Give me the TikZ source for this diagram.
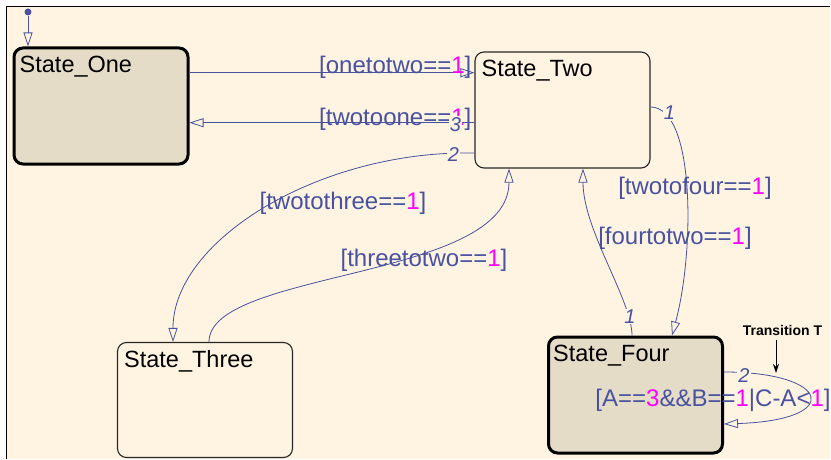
\documentclass[tikz,border=0pt]{standalone}
\usepackage{fontspec}
\setmainfont{Liberation Sans}
\usetikzlibrary{arrows.meta}

\definecolor{canvas}{RGB}{255,244,225}
\definecolor{statefill}{RGB}{229,220,200}
\definecolor{transblue}{RGB}{72,82,160}
\definecolor{guardmag}{RGB}{255,0,255}

\newcommand{\guard}[2]{[#1==\textcolor{guardmag}{#2}]}

\begin{document}
\begin{tikzpicture}[x=1pt,y=1pt]

\tikzstyle{state}=[draw=black!85,line width=1.1pt,rounded corners=9pt,fill=canvas,
  minimum width=175pt,minimum height=116pt,inner sep=0pt]
\tikzstyle{active}=[state,draw=black,fill=statefill,line width=3pt,minimum width=174pt]
\tikzstyle{statename}=[anchor=base west,inner sep=0pt,font=\fontsize{23.5}{26}\selectfont]
\tikzstyle{trans}=[draw=transblue,line width=0.8pt,-{Triangle[open,length=14pt,width=9pt]}]
\tikzstyle{guardtext}=[text=transblue,inner sep=0pt,font=\fontsize{24}{28}\selectfont]
\tikzstyle{ordernum}=[text=transblue,fill=canvas,inner sep=1pt,font=\fontsize{20}{22}\selectfont\itshape]

\useasboundingbox (0,0) rectangle (831,459);
\fill[canvas] (7,0) rectangle (830,452);
\draw[line width=1.5pt] (6.5,0) -- (6.5,452.5) -- (830,452.5);

% states
\node[active] (one) at (101,353) {};
\node[state] (two) at (562.5,349) {};
\node[state,minimum height=115pt] (three) at (205,59) {};
\node[active] (four) at (635.5,64) {};

\node[statename] (onename) at ([xshift=7pt,yshift=-26pt]one.north west) {State\_One};
\node[statename] (twoname) at ([xshift=7pt,yshift=-25.5pt]two.north west) {State\_Two};
\node[statename] (threename) at ([xshift=7pt,yshift=-25.5pt]three.north west) {State\_Three};
\node[statename] (fourname) at ([xshift=6pt,yshift=-26pt]four.north west) {State\_Four};

% default transition
\node[fill=transblue,circle,inner sep=0pt,minimum size=7pt] (init) at (28,447) {};
\draw[trans] (init) -- (init |- one.north);

% one <-> two
\draw[trans] ([yshift=33.3pt]one.east) -- ([yshift=37.3pt]two.west)
  node[guardtext,anchor=east,pos=1,xshift=-2.7pt,yshift=5pt] (g12) {\guard{onetotwo}{1}};
\draw[trans] ([yshift=-12.7pt]two.west) -- ([yshift=-16.7pt]one.east)
  node[guardtext,anchor=east,pos=0,xshift=-2.7pt,yshift=3.7pt] (g21) {\guard{twotoone}{1}}
  node[ordernum,pos=0,xshift=-19pt,yshift=-1.5pt] (o21) {3};

% two <-> three
\draw[trans] ([yshift=-43pt]two.west) .. controls (320,309) and (173,219) .. ([xshift=-32pt]three.north)
  node[ordernum,pos=0,xshift=-21pt,yshift=-2pt] (o23) {2};
\node[guardtext] (g23) at (343,256) {\guard{twotothree}{1}};
\draw[trans] ([xshift=4pt]three.north) .. controls (209,189) and (509,179) .. ([xshift=-53.5pt]two.south);
\node[guardtext] (g32) at (424,199) {\guard{threetotwo}{1}};

% two <-> four
\draw[trans] ([yshift=3pt]two.east) .. controls (695,352) and (695,209) .. ([xshift=36.5pt]four.north)
  node[ordernum,pos=0,xshift=19pt,yshift=-6pt] (o24) {1};
\node[guardtext] (g24) at (695,271) {\guard{twotofour}{1}};
\draw[trans] ([xshift=-3.5pt]four.north) .. controls (632,159) and (583,229) .. ([xshift=20.5pt]two.south)
  node[ordernum,pos=0,xshift=-2pt,yshift=19pt] (o42) {1};
\node[guardtext] (g42) at (675,221) {\guard{fourtotwo}{1}};

% self loop on four
\draw[trans] ([yshift=23pt]four.east) .. controls (830,87) and (845,39) .. ([yshift=-29pt]four.east)
  node[ordernum,pos=0,xshift=20pt,yshift=-4pt] (o44) {2};
\node[guardtext] (g44) at (713,59) {[A==\textcolor{guardmag}{3}\&\&B==\textcolor{guardmag}{1}|C-A<\textcolor{guardmag}{1}]};

% annotation
\node[font=\fontsize{14}{16}\selectfont\bfseries,inner sep=0pt] (tt) at (782.5,128.5) {Transition T};
\coordinate (ttip) at (776,86);
\draw[line width=0.9pt,-{Stealth[length=9pt,width=6pt]}] ([xshift=-6.5pt,yshift=-4pt]tt.south) -- (ttip);

\end{tikzpicture}
\end{document}
